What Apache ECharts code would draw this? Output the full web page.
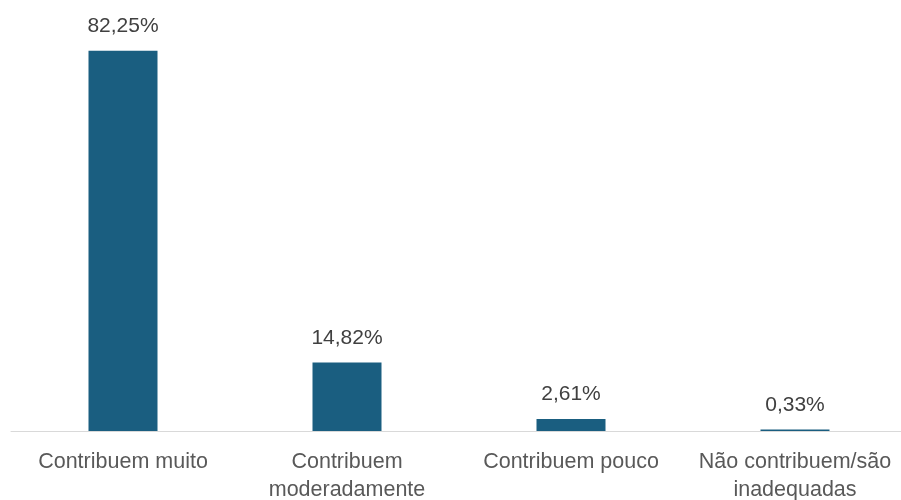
<!DOCTYPE html>
<html>
<head>
<meta charset="utf-8">
<script src="https://cdn.jsdelivr.net/npm/echarts@6/dist/echarts.min.js"></script>
<style>
html,body{margin:0;padding:0;background:#fff;overflow:hidden;}
#c{width:910px;height:500px;}
</style>
</head>
<body>
<div id="c"></div>
<script>
const categories = ['Contribuem muito', 'Contribuem\nmoderadamente', 'Contribuem pouco', 'Não contribuem/são\ninadequadas'];
const values = [82.25, 14.82, 2.61, 0.33];

const chart = echarts.init(document.getElementById('c'), null, {renderer: 'canvas'});
chart.setOption({
  animation: false,
  backgroundColor: '#ffffff',
  grid: {left: 11, top: 15, width: 896, height: 416, containLabel: false, outerBoundsMode: 'none'},
  xAxis: {
    type: 'category',
    data: categories,
    axisLine: {show: true, lineStyle: {color: '#d9d9d9', width: 1}},
    axisTick: {show: false},
    axisLabel: {
      color: '#595959',
      fontSize: 21.5,
      fontFamily: 'Liberation Sans, Arial, sans-serif',
      lineHeight: 28,
      margin: 17,
      interval: 0
    }
  },
  yAxis: {
    type: 'value',
    min: 0,
    max: 90,
    show: false,
    splitLine: {show: false}
  },
  series: [{
    type: 'bar',
    data: values,
    barWidth: 69,
    itemStyle: {color: '#1a5e80'},
    label: {
      show: true,
      position: 'top',
      distance: 14,
      color: '#404040',
      fontSize: 21,
      fontFamily: 'Liberation Sans, Arial, sans-serif',
      formatter: p => p.value.toFixed(2).replace('.', ',') + '%'
    }
  }]
});
</script>
</body>
</html>
